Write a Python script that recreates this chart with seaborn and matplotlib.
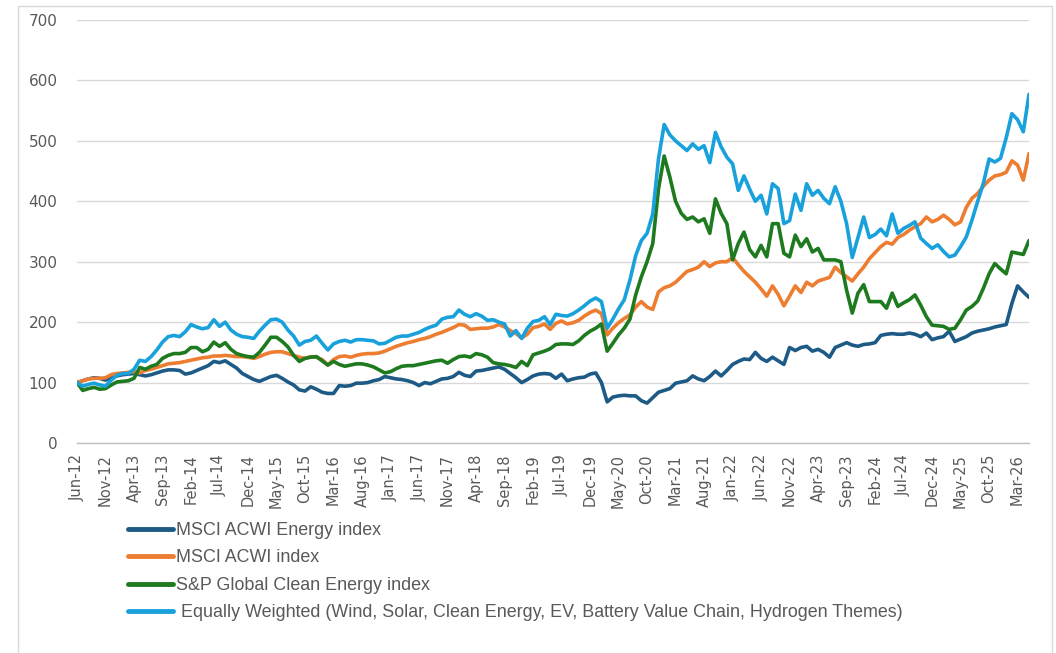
import matplotlib
matplotlib.use("Agg")
import matplotlib.pyplot as plt
from matplotlib.lines import Line2D
from matplotlib.patches import Rectangle
import numpy as np
import pandas as pd
import seaborn as sns

# tick labels, one every 5 months starting Jun-12
TICK_LABELS = [
    "Jun-12", "Nov-12", "Apr-13", "Sep-13", "Feb-14", "Jul-14", "Dec-14",
    "May-15", "Oct-15", "Mar-16", "Aug-16", "Jan-17", "Jun-17", "Nov-17",
    "Apr-18", "Sep-18", "Feb-19", "Jul-19", "Dec-19", "May-20", "Oct-20",
    "Mar-21", "Aug-21", "Jan-22", "Jun-22", "Nov-22", "Apr-23", "Sep-23",
    "Feb-24", "Jul-24", "Dec-24", "May-25", "Oct-25", "Mar-26",
]

# monthly index levels, Jun-12 = 100
ENERGY = [
    100, 103, 106, 108, 107, 104, 108, 111, 113, 114,
    115, 113, 111, 113, 116, 119, 121, 121, 120, 114,
    116, 120, 124, 128, 135, 133, 136, 130, 124, 115,
    110, 105, 102, 106, 110, 112, 107, 101, 96, 88,
    86, 93, 89, 84, 82, 82, 95, 94, 95, 99,
    99, 100, 103, 105, 110, 108, 106, 105, 103, 100,
    95, 100, 98, 102, 106, 107, 110, 117, 112, 110,
    119, 120, 122, 124, 126, 122, 115, 108, 100, 105,
    111, 114, 115, 114, 107, 114, 103, 106, 108, 109,
    114, 116, 100, 68, 76, 78, 79, 78, 78, 70,
    66, 75, 84, 87, 90, 99, 101, 103, 111, 106,
    103, 110, 119, 111, 120, 130, 135, 139, 138, 150,
    140, 135, 142, 136, 130, 158, 153, 158, 160, 152,
    155, 150, 142, 158, 162, 166, 162, 160, 163, 164,
    166, 178, 180, 181, 180, 180, 182, 180, 176, 182,
    171, 174, 176, 185, 168, 172, 176, 182, 185, 187,
    189, 192, 194, 196, 231, 260, 250, 241,
]

ACWI = [
    100, 103, 106, 107, 107, 108, 113, 115, 116, 117,
    118, 116, 120, 122, 125, 128, 131, 132, 133, 135,
    137, 139, 141, 142, 144, 144, 145, 144, 143, 143,
    142, 140, 143, 147, 150, 151, 151, 148, 145, 142,
    140, 143, 142, 138, 129, 138, 143, 144, 142, 145,
    147, 148, 148, 149, 152, 156, 160, 163, 166, 168,
    171, 173, 176, 180, 183, 187, 191, 196, 195, 188,
    189, 190, 190, 192, 196, 192, 186, 181, 174, 180,
    191, 193, 197, 188, 198, 202, 197, 199, 203, 210,
    216, 220, 214, 179, 190, 199, 206, 212, 225, 234,
    225, 221, 250, 257, 260, 266, 275, 284, 287, 291,
    300, 292, 298, 300, 300, 307, 295, 284, 275, 266,
    255, 243, 260, 246, 227, 243, 260, 249, 266, 260,
    268, 271, 274, 291, 282, 275, 268, 280, 291, 305,
    315, 325, 332, 329, 340, 345, 352, 358, 363, 374,
    366, 370, 377, 370, 361, 366, 390, 405, 413, 425,
    435, 442, 444, 448, 467, 460, 435, 479,
]

CLEAN = [
    100, 87, 90, 92, 89, 90, 96, 101, 102, 103,
    107, 125, 122, 127, 130, 140, 145, 148, 148, 150,
    158, 158, 151, 155, 167, 160, 166, 155, 148, 145,
    143, 142, 150, 162, 175, 175, 168, 159, 145, 135,
    140, 142, 143, 136, 129, 135, 130, 127, 129, 131,
    131, 129, 126, 121, 116, 118, 123, 127, 128, 128,
    130, 132, 134, 136, 137, 132, 138, 143, 144, 142,
    148, 146, 142, 133, 131, 130, 128, 125, 135, 128,
    146, 149, 152, 156, 163, 164, 164, 163, 169, 178,
    185, 190, 197, 152, 165, 179, 190, 205, 245, 275,
    300, 330, 420, 475, 440, 400, 380, 370, 374, 366,
    371, 347, 404, 380, 363, 303, 330, 349, 320, 308,
    327, 308, 363, 363, 314, 308, 344, 325, 338, 316,
    322, 303, 303, 303, 300, 253, 215, 248, 262, 234,
    234, 234, 223, 248, 226, 232, 237, 245, 228, 209,
    195, 194, 193, 188, 190, 204, 220, 226, 235, 256,
    280, 297, 288, 280, 316, 314, 312, 335,
]

EQUAL_WEIGHTED = [
    100, 94, 97, 99, 96, 94, 104, 112, 115, 115,
    122, 137, 135, 143, 154, 167, 176, 178, 176, 184,
    196, 192, 189, 191, 204, 193, 200, 187, 180, 176,
    175, 173, 185, 195, 204, 205, 200, 187, 177, 162,
    168, 170, 177, 165, 154, 164, 168, 170, 167, 171,
    171, 170, 169, 164, 165, 170, 175, 177, 177, 180,
    183, 188, 192, 195, 205, 208, 209, 220, 213, 209,
    214, 210, 203, 204, 200, 197, 177, 186, 173, 190,
    201, 203, 209, 196, 213, 211, 210, 214, 220, 227,
    235, 240, 234, 190, 205, 222, 237, 270, 310, 335,
    347, 379, 470, 527, 510, 500, 492, 484, 495, 486,
    492, 464, 514, 490, 473, 462, 418, 442, 420, 400,
    410, 379, 429, 421, 363, 368, 412, 385, 429, 410,
    418, 405, 396, 424, 400, 363, 307, 340, 374, 340,
    345, 354, 343, 379, 347, 355, 360, 366, 339, 330,
    322, 328, 317, 308, 311, 325, 341, 369, 400, 430,
    470, 465, 471, 505, 545, 535, 515, 577,
]

SERIES_NAMES = [
    "MSCI ACWI Energy index",
    "MSCI ACWI index",
    "S&P Global Clean Energy index",
    " Equally Weighted (Wind, Solar, Clean Energy, EV, Battery Value Chain, Hydrogen Themes)",
]
SERIES_COLORS = ["#1d5b86", "#ed7d31", "#1e7a1e", "#18a1db"]

df = pd.concat(
    [
        pd.DataFrame({"month": np.arange(len(vals)), "value": vals, "series": name})
        for name, vals in zip(SERIES_NAMES, [ENERGY, ACWI, CLEAN, EQUAL_WEIGHTED])
    ],
    ignore_index=True,
)

sns.set_style("white")
plt.rcParams["font.family"] = ["DejaVu Sans"]

W, H = 1056, 653
fig = plt.figure(figsize=(W / 100, H / 100), dpi=100)
ax = fig.add_axes([77 / W, 1 - 443 / H, (1029 - 77) / W, (443 - 20) / H])

sns.lineplot(
    data=df,
    x="month",
    y="value",
    hue="series",
    hue_order=SERIES_NAMES,
    palette=dict(zip(SERIES_NAMES, SERIES_COLORS)),
    linewidth=2.6,
    sort=False,
    legend=False,
    ax=ax,
)

ax.set_xlim(0, len(ENERGY) - 1)
ax.set_ylim(0, 700)
ax.set_yticks(np.arange(0, 701, 100))
ax.set_xticks(np.arange(0, 5 * len(TICK_LABELS), 5))
ax.set_xticklabels(TICK_LABELS)
ax.set_xlabel("")
ax.set_ylabel("")

ax.yaxis.grid(True, color="#d9d9d9", linewidth=1)
ax.set_axisbelow(True)
for side in ["top", "right", "left"]:
    ax.spines[side].set_visible(False)
ax.spines["bottom"].set_color("#bfbfbf")
ax.spines["bottom"].set_linewidth(1)

ax.tick_params(axis="y", length=0, pad=14, labelsize=11, labelcolor="#595959")
ax.tick_params(
    axis="x", direction="out", length=4, width=1, color="#bfbfbf",
    labelrotation=90, labelsize=10.5, labelcolor="#595959", pad=4,
)

# legend below the plot, one entry per row
handles = [Line2D([], [], color=c, linewidth=3.5) for c in SERIES_COLORS]
leg = fig.legend(
    handles,
    SERIES_NAMES,
    loc="upper left",
    bbox_to_anchor=(128 / W, 1 - 522 / H),
    frameon=False,
    borderpad=0,
    borderaxespad=0,
    handlelength=2.5,
    handletextpad=0.2,
    labelspacing=0.58,
    prop={"family": ["Liberation Sans", "DejaVu Sans"], "size": 12.9},
)
for t in leg.get_texts():
    t.set_color("#595959")

# outer chart border
fig.patches.append(
    Rectangle(
        (18 / W, -0.02), (1052 - 18) / W, (653 - 6) / H + 0.02,
        transform=fig.transFigure, fill=False, edgecolor="#d9d9d9", linewidth=1,
    )
)

fig.savefig("out.png", dpi=100)
plt.close(fig)
